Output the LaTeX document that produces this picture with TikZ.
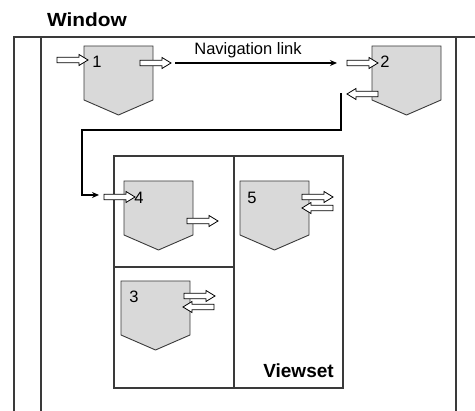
\documentclass[tikz,border=0pt]{standalone}
\usepackage{fontspec}
\setmainfont{Liberation Sans}
\usetikzlibrary{arrows.meta}
\definecolor{PageGray}{HTML}{D9D9D9}
\definecolor{FrameGray}{HTML}{3A3A3A}
\tikzset{
  viewpage/.pic={\draw[FrameGray,fill=PageGray,line width=0.9pt] (0,0) -- (69,0) -- (69,54) -- (34.5,69) -- (0,54) -- cycle;},
  blockarrow/.pic={\draw[black,fill=white,line width=0.8pt] (0,-2.8) -- (22,-2.8) -- (22,-5.5) -- (31,0) -- (22,5.5) -- (22,2.8) -- (0,2.8) -- cycle;},
  navlink/.style={line width=2.2pt,-{Stealth[length=7pt,width=6pt]}},
  frameline/.style={FrameGray,line width=1.8pt},
  viewframe/.style={FrameGray,line width=1.4pt},
  pagenum/.style={font=\fontsize{16.5}{18}\selectfont},
  caption/.style={font=\bfseries\fontsize{19}{21}\selectfont}
}
\begin{document}
\begin{tikzpicture}[x=1pt,y=-1pt,line join=miter]
  \useasboundingbox (0,0) rectangle (475,411);
  \draw[frameline] (14,411) -- (14,37) -- (475,37);
  \draw[frameline] (41,37) -- (41,411);\draw[frameline] (456,37) -- (456,411);
  \draw[viewframe] (114,156) rectangle (343,388);
  \draw[viewframe] (234,156) -- (234,388);\draw[viewframe] (114,267) -- (234,267);
  \foreach \x/\y in {84/46,372/46,124/181,240/181,121/281}{\pic at (\x,\y) {viewpage};}
  \foreach \x/\y in {57/60,140/63,347/63,104/197,187/221,302/197,184/296}{\pic at (\x,\y) {blockarrow};}
  \foreach \x/\y in {378/94,333/208,214/307}{\pic[rotate=180] at (\x,\y) {blockarrow};}
  \foreach \n/\x/\y in {1/97/62,2/385/62,4/139/198,5/252/198,3/134/297}{\node[pagenum,inner sep=0pt] (num\n) at (\x,\y) {\n};}
  \node[caption,xscale=1.1] (window) at (87,19.5) {Window};
  \node[caption] (viewset) at (298.5,371) {Viewset};
  \node[pagenum] (navtext) at (248,50) {Navigation link};
  \coordinate (L1) at (175,63);\coordinate (L2) at (337,63);
  \coordinate (B2) at (341,93);\coordinate (K) at (82,130);\coordinate (B4) at (99,195);
  \draw[navlink] (L1) -- (L2);
  \draw[navlink] (B2) |- (K) |- (B4);
\end{tikzpicture}
\end{document}
